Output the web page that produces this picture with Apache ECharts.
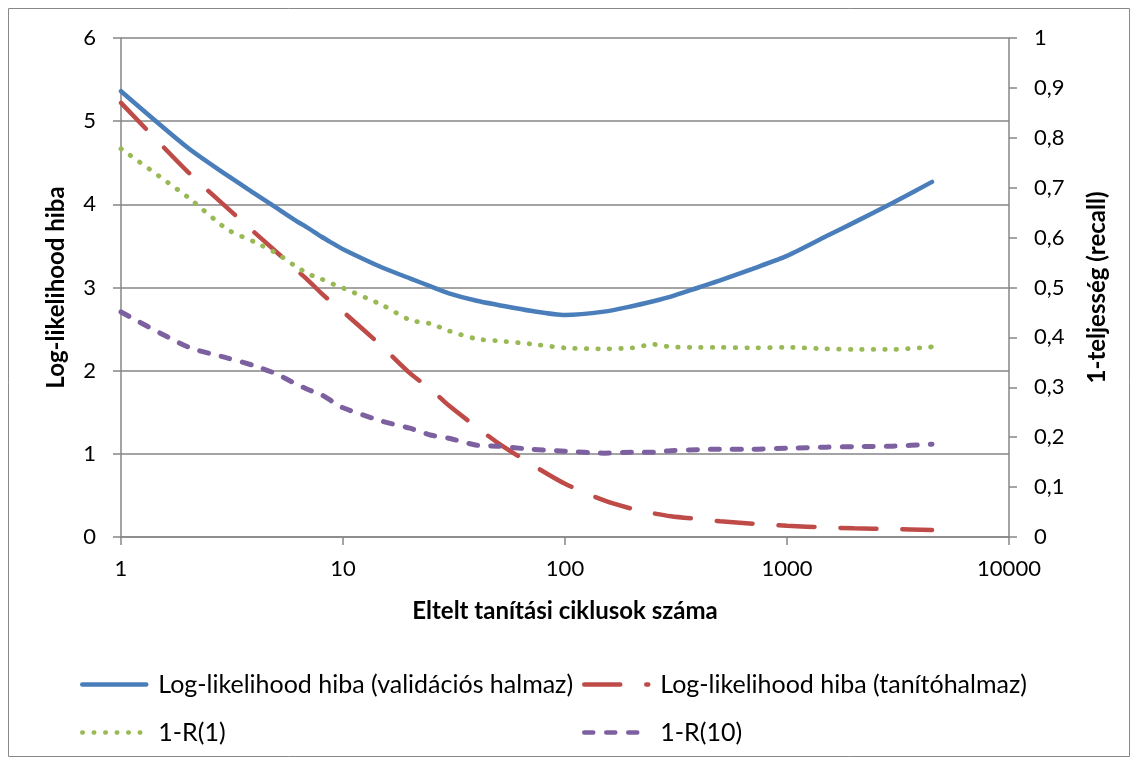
<!DOCTYPE html>
<html>
<head>
<meta charset="utf-8">
<script src="https://cdn.jsdelivr.net/npm/echarts@6/dist/echarts.min.js"></script>
<style>
html,body{margin:0;padding:0;background:#fff;}
#chart{width:1138px;height:765px;}
</style>
</head>
<body>
<div id="chart"></div>
<script>
// Epochs (x values, log axis)
var epochs = [1,2,3,4,5,6,7,8,9,10,15,20,25,30,40,50,70,100,150,200,250,300,400,500,700,1000,1500,2000,3000,4500];
// Log-likelihood error, validation set (left axis)
var valLL = [5.36,4.68,4.35,4.13,3.96,3.82,3.71,3.61,3.53,3.46,3.24,3.11,3.01,2.93,2.84,2.79,2.72,2.67,2.71,2.775,2.835,2.89,3.00,3.085,3.225,3.38,3.615,3.78,4.02,4.27];
// Log-likelihood error, training set (left axis)
var trainLL = [5.22,4.39,3.96,3.66,3.43,3.24,3.08,2.93,2.81,2.71,2.29,1.97,1.77,1.58,1.32,1.13,0.88,0.64,0.44,0.34,0.285,0.25,0.215,0.19,0.16,0.135,0.115,0.105,0.095,0.085];
// 1-R(1) (right axis)
var r1 = [0.778,0.681,0.617,0.591,0.569,0.545,0.527,0.517,0.507,0.499,0.465,0.435,0.427,0.413,0.397,0.393,0.387,0.379,0.377,0.379,0.386,0.381,0.380,0.380,0.379,0.380,0.377,0.376,0.376,0.381];
// 1-R(10) (right axis)
var r10 = [0.451,0.381,0.359,0.343,0.327,0.309,0.295,0.285,0.271,0.259,0.232,0.218,0.204,0.198,0.184,0.182,0.176,0.172,0.168,0.170,0.170,0.173,0.175,0.176,0.176,0.178,0.180,0.181,0.182,0.186];

var seriesNames = ['Log-likelihood hiba (validációs halmaz)','Log-likelihood hiba (tanítóhalmaz)','1-R(1)','1-R(10)'];
var xTitle = 'Eltelt tanítási ciklusok száma';
var yLeftTitle = 'Log-likelihood hiba';
var yRightTitle = '1-teljesség (recall)';

function pairs(ys){ return epochs.map(function(x,i){ return [x, ys[i]]; }); }

var FONT = 'Lato';
var GRID = '#868686';
var chart = echarts.init(document.getElementById('chart'), null, {renderer:'canvas'});

function legendAt(name, left, top){
  return {
    data:[name], left:left, top:top, itemWidth:64, itemHeight:14,
    textStyle:{fontFamily:FONT, fontSize:25, color:'#000', padding:[0,0,0,7]},
    itemStyle:{opacity:0},
    lineStyle:{width:4.5},
    selectedMode:false
  };
}

chart.setOption({
  animation:false,
  backgroundColor:'#fff',
  graphic:[{type:'rect', shape:{x:8.5,y:8.5,width:1121,height:748}, style:{fill:'none', stroke:'#888', lineWidth:1}, silent:true}],
  grid:{left:121, right:129, top:38, bottom:228, containLabel:false},
  legend:[
    legendAt(seriesNames[0], 75, 667),
    legendAt(seriesNames[1], 577, 667),
    legendAt(seriesNames[2], 75, 715),
    legendAt(seriesNames[3], 577, 715)
  ],
  xAxis:{
    type:'log', logBase:10, min:1, max:10000,
    name:xTitle, nameLocation:'middle', nameGap:62,
    nameTextStyle:{fontFamily:FONT, fontSize:24, fontWeight:'bold', color:'#000'},
    axisLine:{lineStyle:{color:GRID, width:1.5}},
    axisTick:{show:true, length:8, lineStyle:{color:GRID, width:1.5}},
    axisLabel:{fontFamily:FONT, fontSize:22, color:'#000', margin:21,
      formatter:function(v){ return String(Math.round(v)); }},
    splitLine:{show:false}, minorTick:{show:false}
  },
  yAxis:[{
    type:'value', min:0, max:6, interval:1, position:'left',
    name:yLeftTitle, nameLocation:'middle', nameRotate:90, nameGap:53,
    nameTextStyle:{fontFamily:FONT, fontSize:24, fontWeight:'bold', color:'#000'},
    axisLine:{show:true, lineStyle:{color:GRID, width:1.5}},
    axisTick:{show:true, length:8, lineStyle:{color:GRID, width:1.5}},
    axisLabel:{fontFamily:FONT, fontSize:22, color:'#000', margin:25},
    splitLine:{show:true, lineStyle:{color:GRID, width:1.5}}
  },{
    type:'value', min:0, max:1, interval:0.1, position:'right',
    name:yRightTitle, nameLocation:'middle', nameRotate:90, nameGap:76,
    nameTextStyle:{fontFamily:FONT, fontSize:24, fontWeight:'bold', color:'#000'},
    axisLine:{show:true, lineStyle:{color:GRID, width:1.5}},
    axisTick:{show:true, length:8, lineStyle:{color:GRID, width:1.5}},
    axisLabel:{fontFamily:FONT, fontSize:22, color:'#000', margin:25,
      formatter:function(v){ var s = (Math.round(v*10)/10).toString(); return s.replace('.', ','); }},
    splitLine:{show:false}
  }],
  series:[{
    name:seriesNames[0], type:'line', yAxisIndex:0, data:pairs(valLL),
    symbol:'none', smooth:0.25, color:'#4A7EBB',
    lineStyle:{color:'#4A7EBB', width:4.5, cap:'round'}
  },{
    name:seriesNames[1], type:'line', yAxisIndex:0, data:pairs(trainLL),
    symbol:'none', smooth:0.25, color:'#BE4B48',
    lineStyle:{color:'#BE4B48', width:4.5, type:[36,26], cap:'round'}
  },{
    name:seriesNames[2], type:'line', yAxisIndex:1, data:pairs(r1),
    symbol:'none', smooth:0.25, color:'#98B954',
    lineStyle:{color:'#98B954', width:4.8, type:[0.5,11], cap:'round'}
  },{
    name:seriesNames[3], type:'line', yAxisIndex:1, data:pairs(r10),
    symbol:'none', smooth:0.25, color:'#7D60A0',
    lineStyle:{color:'#7D60A0', width:5, type:[9,13], cap:'round'}
  }]
});
</script>
</body>
</html>
